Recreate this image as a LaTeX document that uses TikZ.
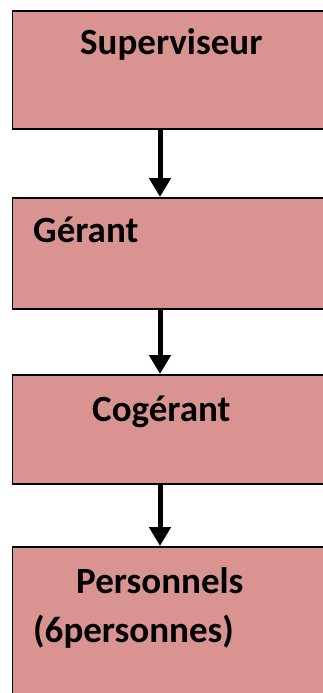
\documentclass[tikz,border=0pt]{standalone}
\usepackage{fontspec}
\setmainfont{Carlito}
\usetikzlibrary{arrows.meta}
\definecolor{boxfill}{RGB}{217,148,146}
\tikzset{
  orgbox/.style={draw=black, line width=1.6pt, fill=boxfill, rectangle, minimum width=330pt, inner sep=0pt, anchor=north west},
  lbl/.style={anchor=base west, inner sep=0pt, font=\bfseries\fontsize{37}{44}\selectfont},
  arr/.style={line width=5pt, -{Triangle[width=21pt,length=19pt]}}
}
\begin{document}
\begin{tikzpicture}[x=1pt,y=-1pt]
\useasboundingbox (0,0) rectangle (323,693);
\clip (0,0) rectangle (323,693);
\fill[white] (0,0) rectangle (323,693);
\node[orgbox, minimum height=118pt] (b1) at (11.5,10) {};
\node[orgbox, minimum height=111pt] (b2) at (11.5,197) {};
\node[orgbox, minimum height=109pt] (b3) at (11.5,374) {};
\node[orgbox, minimum height=170pt] (b4) at (11.5,546) {};
\node[lbl] (t1) at (80,55) {Superviseur};
\node[lbl] (t2) at (33,242) {Gérant};
\node[lbl] (t3) at (92,421) {Cogérant};
\node[lbl] (t4) at (76,593) {Personnels};
\node[lbl] (t5) at (33,642) {(6personnes)};
\coordinate (ax) at (160,0);
\draw[arr] (b1.south -| ax) -- (b2.north -| ax);
\draw[arr] (b2.south -| ax) -- (b3.north -| ax);
\draw[arr] (b3.south -| ax) -- (b4.north -| ax);
\end{tikzpicture}
\end{document}
